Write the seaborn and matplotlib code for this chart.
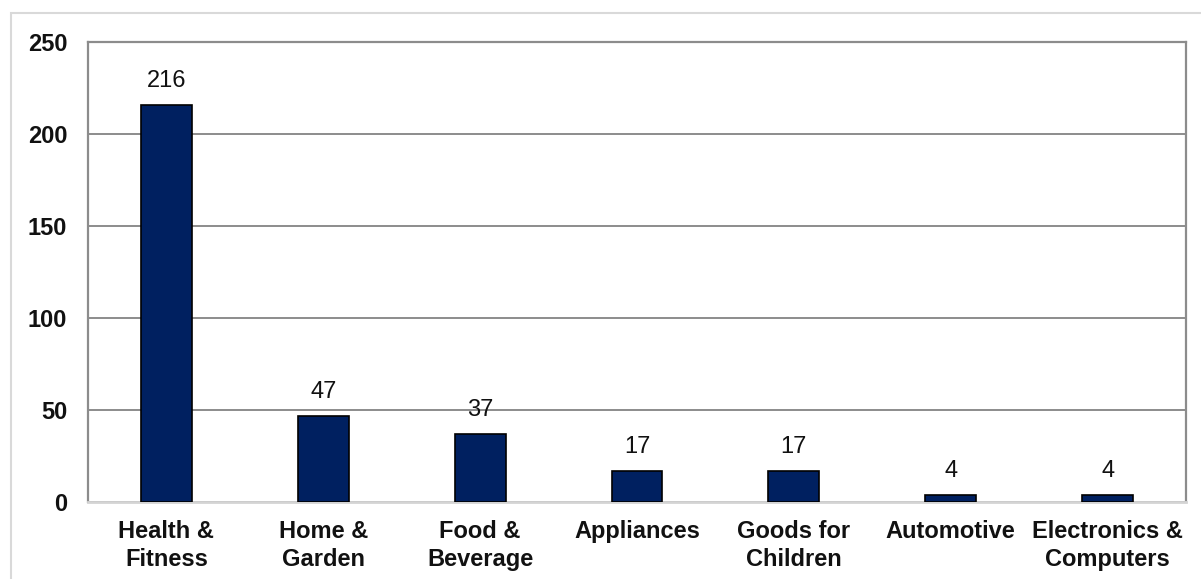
import matplotlib
matplotlib.use("Agg")
import matplotlib.pyplot as plt
from matplotlib.patches import Rectangle
import seaborn as sns
import pandas as pd

categories = ["Health &\nFitness", "Home &\nGarden", "Food &\nBeverage", "Appliances",
              "Goods for\nChildren", "Automotive", "Electronics &\nComputers"]
counts = [216, 47, 37, 17, 17, 4, 4]
y_ticks = [0, 50, 100, 150, 200, 250]

sns.set_theme(style="white")
plt.rcParams["font.family"] = ["Liberation Sans", "DejaVu Sans"]

df = pd.DataFrame({"category": categories, "count": counts})

fig = plt.figure(figsize=(12.01, 5.79), dpi=100)
ax = fig.add_axes([88 / 1201, 1 - 502 / 579, (1186 - 88) / 1201, (502 - 42) / 579])

sns.barplot(data=df, x="category", y="count", ax=ax, color="#002060",
            saturation=1, width=0.325, edgecolor="black", linewidth=1.2, zorder=3)

ax.set_ylim(0, 250)
ax.set_yticks(y_ticks)
ax.yaxis.grid(True, color="#8c8c8c", linewidth=1.4, zorder=0)
ax.set_axisbelow(True)
ax.set_xlabel("")
ax.set_ylabel("")

for side in ("left", "top", "right"):
    ax.spines[side].set_color("#8c8c8c")
    ax.spines[side].set_linewidth(1.6)
ax.spines["bottom"].set_color("#d4d4d4")
ax.spines["bottom"].set_linewidth(2)

ax.tick_params(axis="y", length=0, pad=15, labelsize=17)
ax.tick_params(axis="x", length=0, pad=13, labelsize=17)
for lbl in ax.get_xticklabels() + ax.get_yticklabels():
    lbl.set_fontweight("bold")
    lbl.set_color("#111111")
for lbl in ax.get_xticklabels():
    lbl.set_verticalalignment("top")
    lbl.set_linespacing(1.3)

for container in ax.containers:
    ax.bar_label(container, labels=[str(v) for v in counts], padding=9,
                 fontsize=17, color="#111111")

fig.patches.append(Rectangle((11 / 1201, -0.2), 1.2, 1.2 - 13 / 579,
                             transform=fig.transFigure, fill=False,
                             edgecolor="#d9d9d9", linewidth=1.5, zorder=0))

fig.savefig("out.png", dpi=100)
